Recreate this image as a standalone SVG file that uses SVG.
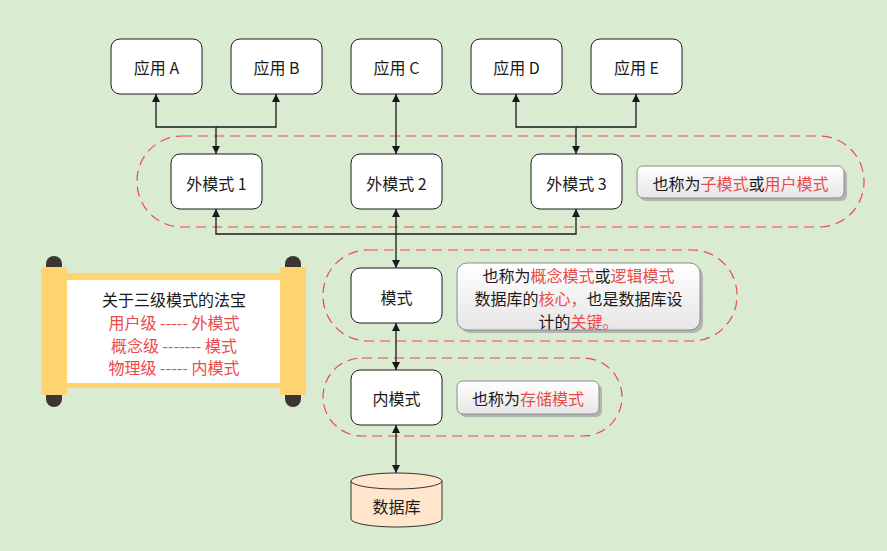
<svg xmlns="http://www.w3.org/2000/svg" width="887" height="551" viewBox="0 0 887 551">
<defs>
  <marker id="arr" viewBox="0 0 10 10" refX="10" refY="5" markerWidth="8" markerHeight="9" markerUnits="userSpaceOnUse" orient="auto-start-reverse">
    <path d="M0,0 L10,5 L0,10 z" fill="#1a1a1a"/>
  </marker>
  <linearGradient id="noteGrad" x1="0" y1="0" x2="0" y2="1">
    <stop offset="0" stop-color="#ffffff"/>
    <stop offset="1" stop-color="#e6e6e6"/>
  </linearGradient>
</defs>
<style>
  text { font-family: "Noto Sans CJK SC", "Open Sans", "Liberation Sans", sans-serif; font-size: 16px; fill: #1a1a1a; text-anchor: middle; dominant-baseline: central; }
  .box { fill: #ffffff; stroke: #1a1a1a; stroke-width: 1; }
  .note { fill: url(#noteGrad); stroke: #8c8c8c; stroke-width: 1; }
  .shadow { fill: #a6a6a6; opacity: 0.8; }
  .grp { fill: none; stroke: #ea4b4b; stroke-width: 1.2; stroke-dasharray: 10 6; }
  .conn { fill: none; stroke: #1a1a1a; stroke-width: 1.3; }
  .r { fill: #ea4b4b; }
</style>
<rect x="0" y="0" width="887" height="551" fill="#d9ebd0"/>

<g id="groups">
  <rect class="grp" x="137" y="136" width="727" height="91" rx="45" ry="45"/>
  <rect class="grp" x="323" y="250" width="414" height="91" rx="45" ry="45"/>
  <rect class="grp" x="323" y="358" width="299" height="78" rx="39" ry="39"/>
</g>

<g id="connectors">
  <path class="conn" d="M216,154 V127 H156 V94" marker-start="url(#arr)" marker-end="url(#arr)"/>
  <path class="conn" d="M216,127 H276 V94" marker-end="url(#arr)"/>
  <path class="conn" d="M396,154 V94" marker-start="url(#arr)" marker-end="url(#arr)"/>
  <path class="conn" d="M576,154 V127 H516 V94" marker-start="url(#arr)" marker-end="url(#arr)"/>
  <path class="conn" d="M576,127 H636 V94" marker-end="url(#arr)"/>
  <path class="conn" d="M216,209 V234 H576 V209" marker-start="url(#arr)" marker-end="url(#arr)"/>
  <path class="conn" d="M396,209 V268" marker-start="url(#arr)" marker-end="url(#arr)"/>
  <path class="conn" d="M396,323 V370" marker-start="url(#arr)" marker-end="url(#arr)"/>
  <path class="conn" d="M396,425 V473" marker-start="url(#arr)" marker-end="url(#arr)"/>
</g>

<g id="appA"><rect class="box" x="111" y="39" width="91" height="55" rx="9"/><text x="156.5" y="67">应用 A</text></g>
<g id="appB"><rect class="box" x="231" y="39" width="91" height="55" rx="9"/><text x="276.5" y="67">应用 B</text></g>
<g id="appC"><rect class="box" x="351" y="39" width="91" height="55" rx="9"/><text x="396.5" y="67">应用 C</text></g>
<g id="appD"><rect class="box" x="471" y="39" width="91" height="55" rx="9"/><text x="516.5" y="67">应用 D</text></g>
<g id="appE"><rect class="box" x="591" y="39" width="91" height="55" rx="9"/><text x="636.5" y="67">应用 E</text></g>

<g id="ext1"><rect class="box" x="171" y="154" width="91" height="55" rx="9"/><text x="216.5" y="183">外模式 1</text></g>
<g id="ext2"><rect class="box" x="351" y="154" width="91" height="55" rx="9"/><text x="396.5" y="183">外模式 2</text></g>
<g id="ext3"><rect class="box" x="531" y="154" width="91" height="55" rx="9"/><text x="576.5" y="183">外模式 3</text></g>

<g id="note1">
  <rect class="shadow" x="640" y="169" width="207" height="32" rx="6"/>
  <rect class="note" x="637" y="166" width="207" height="32" rx="6"/>
  <text x="740.5" y="183">也称为<tspan class="r">子模式</tspan>或<tspan class="r">用户模式</tspan></text>
</g>

<g id="schema"><rect class="box" x="351" y="268" width="91" height="55" rx="9"/><text x="396.5" y="297">模式</text></g>

<g id="note2">
  <rect class="shadow" x="460" y="266" width="243" height="67" rx="10"/>
  <rect class="note" x="457" y="263" width="243" height="67" rx="10"/>
  <text x="578.5" y="275">也称为<tspan class="r">概念模式</tspan>或<tspan class="r">逻辑模式</tspan></text>
  <text x="578.5" y="298">数据库的<tspan class="r">核心，</tspan>也是数据库设</text>
  <text x="578.5" y="321">计的<tspan class="r">关键。</tspan></text>
</g>

<g id="internal"><rect class="box" x="351" y="370" width="91" height="55" rx="9"/><text x="396.5" y="398">内模式</text></g>

<g id="note3">
  <rect class="shadow" x="460" y="384" width="142" height="33" rx="6"/>
  <rect class="note" x="457" y="381" width="142" height="33" rx="6"/>
  <text x="528" y="398">也称为<tspan class="r">存储模式</tspan></text>
</g>

<g id="database">
  <path d="M351,481 A45.5,8 0 0 1 442,481 V519 A45.5,8 0 0 1 351,519 Z" fill="#ffe6cc" stroke="#333333" stroke-width="1"/>
  <path d="M351,481 A45.5,8 0 0 0 442,481" fill="none" stroke="#333333" stroke-width="1"/>
  <text x="396.5" y="506">数据库</text>
</g>

<g id="scroll">
  <rect x="46" y="256" width="16" height="22" rx="8" fill="#3d3535"/>
  <rect x="46" y="386" width="16" height="21" rx="8" fill="#3d3535"/>
  <rect x="285" y="256" width="16" height="22" rx="8" fill="#3d3535"/>
  <rect x="285" y="386" width="16" height="21" rx="8" fill="#3d3535"/>
  <rect x="41" y="273" width="265" height="115" fill="#ffd470"/>
  <rect x="41" y="267" width="26" height="128" rx="2" fill="#ffd470"/>
  <rect x="280" y="267" width="26" height="128" rx="2" fill="#ffd470"/>
  <rect x="67" y="280" width="213" height="103" fill="#ffffff"/>
  <text x="174" y="299">关于三级模式的法宝</text>
  <text x="174" y="322" class="r">用户级 ----- 外模式</text>
  <text x="174" y="345" class="r">概念级 ------- 模式</text>
  <text x="174" y="367" class="r">物理级 ----- 内模式</text>
</g>
</svg>
